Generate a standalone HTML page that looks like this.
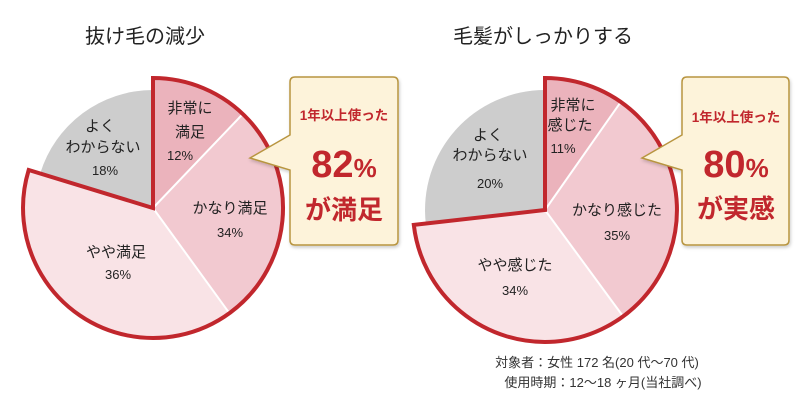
<!DOCTYPE html>
<html><head><meta charset="utf-8"><style>
html,body{margin:0;padding:0;background:#fff}
svg{display:block;font-family:"Liberation Sans","Noto Sans CJK JP",sans-serif}
</style></head><body>
<svg width="809" height="405" viewBox="0 0 809 405">
<defs><filter id="sh" x="-10%" y="-10%" width="130%" height="130%"><feDropShadow dx="1" dy="2" stdDeviation="1.5" flood-color="#000" flood-opacity="0.2"/></filter></defs>
<text x="145" y="43" font-size="20" text-anchor="middle" fill="#222">抜け毛の減少</text>
<text x="543" y="43" font-size="20" text-anchor="middle" fill="#222">毛髪がしっかりする</text>

<!-- left pie -->
<path d="M153,208 L40.2,173.5 A118,118 0 0 1 153,90 Z" fill="#cdcdcd"/>
<path d="M153,208 L153,78 A130,130 0 0 1 242.8,114 Z" fill="#ebb3bc"/>
<path d="M153,208 L242.8,114 A130,130 0 0 1 229.4,313.2 Z" fill="#f2c9d0"/>
<path d="M153,208 L229.4,313.2 A130,130 0 0 1 28.7,170 Z" fill="#f9e3e6"/>
<line x1="153" y1="208" x2="242.8" y2="114" stroke="#fff" stroke-width="2"/>
<line x1="153" y1="208" x2="229.4" y2="313.2" stroke="#fff" stroke-width="2"/>
<path d="M153,208 L153,78 A130,130 0 1 1 28.7,170 Z" fill="none" stroke="#c1272d" stroke-width="4" stroke-linejoin="miter"/>
<g font-size="15" fill="#222" text-anchor="middle">
<text x="190" y="113">非常に</text><text x="190" y="137">満足</text>
<text x="180" y="160" font-size="13">12%</text>
<text x="230" y="213">かなり満足</text><text x="230" y="237" font-size="13">34%</text>
<text x="116" y="257">やや満足</text><text x="118" y="279" font-size="13">36%</text>
<text x="100" y="131">よく</text><text x="103" y="152">わからない</text>
<text x="105" y="175" font-size="13">18%</text>
</g>
<!-- left callout -->
<path d="M295,77 H393 Q398,77 398,82 V240 Q398,245 393,245 H295 Q290,245 290,240 V170 L250,158 L290,135 V82 Q290,77 295,77 Z" fill="#fdf3da" stroke="#b8953f" stroke-width="1.5" filter="url(#sh)"/>
<g fill="#c1272d" font-weight="bold" text-anchor="middle">
<text x="344" y="120" font-size="13.5">1年以上使った</text>
<text x="344" y="177" font-size="38">82<tspan font-size="26">%</tspan></text>
<text x="344" y="219" font-size="26">が満足</text>
</g>

<!-- right pie -->
<path d="M545,210 L425.8,223.6 A120,120 0 0 1 545,90 Z" fill="#cdcdcd"/>
<path d="M545,210 L545,78 A132,132 0 0 1 620.8,101.9 Z" fill="#ebb3bc"/>
<path d="M545,210 L620.8,101.9 A132,132 0 0 1 623.1,316.4 Z" fill="#f2c9d0"/>
<path d="M545,210 L623.1,316.4 A132,132 0 0 1 413.8,224.9 Z" fill="#f9e3e6"/>
<line x1="545" y1="210" x2="620.8" y2="101.9" stroke="#fff" stroke-width="2"/>
<line x1="545" y1="210" x2="623.1" y2="316.4" stroke="#fff" stroke-width="2"/>
<path d="M545,210 L545,78 A132,132 0 1 1 413.8,224.9 Z" fill="none" stroke="#c1272d" stroke-width="4"/>
<g font-size="15" fill="#222" text-anchor="middle">
<text x="573" y="110">非常に</text><text x="570" y="130">感じた</text>
<text x="563" y="153" font-size="13">11%</text>
<text x="617" y="215">かなり感じた</text><text x="617" y="240" font-size="13">35%</text>
<text x="515" y="270">やや感じた</text><text x="515" y="295" font-size="13">34%</text>
<text x="488" y="140">よく</text><text x="490" y="160">わからない</text>
<text x="490" y="188" font-size="13">20%</text>
</g>
<!-- right callout -->
<path d="M687,77 H784 Q789,77 789,82 V240 Q789,245 784,245 H687 Q682,245 682,240 V170 L642,158 L682,135 V82 Q682,77 687,77 Z" fill="#fdf3da" stroke="#b8953f" stroke-width="1.5" filter="url(#sh)"/>
<g fill="#c1272d" font-weight="bold" text-anchor="middle">
<text x="736" y="122" font-size="13.5">1年以上使った</text>
<text x="736" y="177" font-size="38">80<tspan font-size="26">%</tspan></text>
<text x="736" y="218" font-size="26">が実感</text>
</g>

<g font-size="13" fill="#333" text-anchor="middle">
<text x="597" y="367">対象者：女性 172 名(20 代〜70 代)</text>
<text x="603" y="387">使用時期：12〜18 ヶ月(当社調べ)</text>
</g>
</svg>
</body></html>
